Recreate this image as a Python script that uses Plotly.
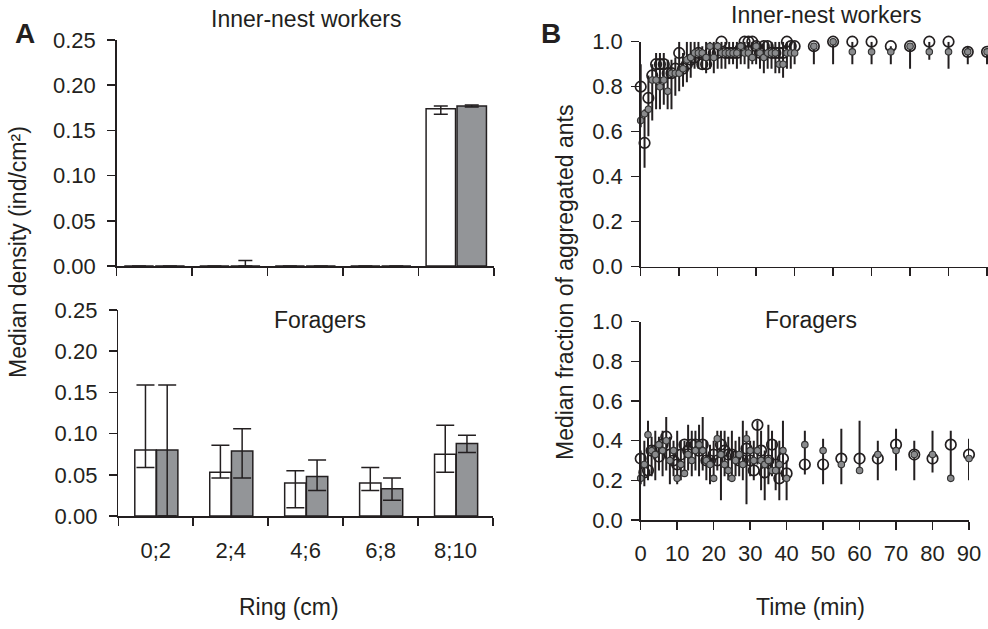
import numpy as np
import plotly.graph_objects as go

# ---------------- Panel A data ----------------
rings = ["0;2", "2;4", "4;6", "6;8", "8;10"]

inner_white = [0.0, 0.0, 0.0, 0.0, 0.174]
inner_white_lo = [0.0, 0.0, 0.0, 0.0, 0.168]
inner_white_hi = [0.0, 0.0, 0.0, 0.0, 0.177]
inner_gray = [0.0, 0.0, 0.0, 0.0, 0.177]
inner_gray_lo = [0.0, 0.0, 0.0, 0.0, 0.176]
inner_gray_hi = [0.0, 0.006, 0.0, 0.0, 0.178]

forager_white = [0.080, 0.053, 0.040, 0.040, 0.075]
forager_white_lo = [0.059, 0.046, 0.010, 0.031, 0.053]
forager_white_hi = [0.159, 0.086, 0.055, 0.059, 0.110]
forager_gray = [0.080, 0.079, 0.048, 0.033, 0.088]
forager_gray_lo = [0.0, 0.046, 0.031, 0.019, 0.077]
forager_gray_hi = [0.159, 0.106, 0.068, 0.046, 0.098]

# ---------------- Panel B data ----------------
time_min = [0, 1, 2, 3, 4, 5, 6, 7, 8, 9, 10, 11, 12, 13, 14, 15, 16, 17, 18, 19, 20,
            21, 22, 23, 24, 25, 26, 27, 28, 29, 30, 31, 32, 33, 34, 35, 36, 37, 38, 39, 40,
            45, 50, 55, 60, 65, 70, 75, 80, 85, 90]

inner_open = [0.80, 0.55, 0.75, 0.85, 0.90, 0.90, 0.90, 0.86, 0.86, 0.88,
              0.95, 0.88, 0.90, 0.92, 0.93, 0.95, 0.90, 0.90, 0.95, 0.95,
              0.95, 1.00, 0.95, 0.95, 0.95, 0.95, 0.97, 1.00, 1.00, 1.00,
              0.98, 0.95, 0.98, 0.98, 0.95, 0.95, 0.95, 0.95, 1.00, 0.98,
              0.98,
              0.98, 1.00, 1.00, 1.00, 0.98, 0.98, 1.00, 1.00, 0.955, 0.955]
inner_dot = [0.65, 0.68, 0.70, 0.83, 0.83, 0.80, 0.83, 0.78, 0.86, 0.86,
             0.86, 0.88, 0.92, 0.93, 0.95, 0.95, 0.95, 0.93, 0.98, 0.93,
             0.98, 0.95, 0.95, 0.95, 0.95, 0.95, 0.98, 0.95, 0.95, 0.93,
             0.98, 0.95, 0.93, 0.95, 0.95, 0.95, 0.90, 0.90, 0.95, 0.95,
             0.95,
             0.98, 1.00, 0.955, 0.955, 0.955, 0.98, 0.955, 0.955, 0.955, 0.955]
inner_lo = [0.62, 0.44, 0.58, 0.65, 0.70, 0.70, 0.72, 0.70, 0.70, 0.76,
            0.78, 0.80, 0.82, 0.84, 0.88, 0.88, 0.88, 0.86, 0.88, 0.86,
            0.88, 0.88, 0.88, 0.90, 0.90, 0.88, 0.90, 0.90, 0.88, 0.90,
            0.90, 0.88, 0.86, 0.88, 0.88, 0.86, 0.86, 0.84, 0.88, 0.88,
            0.90,
            0.90, 0.90, 0.90, 0.90, 0.90, 0.88, 0.92, 0.88, 0.90, 0.90]
inner_hi = [0.90, 0.70, 0.85, 0.90, 0.95, 0.95, 0.95, 0.92, 0.92, 0.93,
            1.00, 0.95, 1.00, 1.00, 1.00, 1.00, 0.98, 1.00, 1.00, 1.00,
            1.00, 1.00, 1.00, 1.00, 1.00, 1.00, 1.00, 1.00, 1.00, 1.00,
            1.00, 1.00, 1.00, 1.00, 1.00, 1.00, 1.00, 1.00, 1.00, 1.00,
            1.00,
            0.98, 1.00, 1.00, 1.00, 0.98, 0.98, 1.00, 1.00, 0.98, 0.97]

forager_open = [0.31, 0.24, 0.25, 0.35, 0.35, 0.32, 0.38, 0.42, 0.33, 0.30,
                0.28, 0.33, 0.38, 0.35, 0.38, 0.38, 0.35, 0.38, 0.30, 0.30,
                0.33, 0.30, 0.38, 0.35, 0.33, 0.33, 0.32, 0.30, 0.30, 0.36,
                0.30, 0.25, 0.48, 0.35, 0.24, 0.30, 0.38, 0.28, 0.21, 0.31,
                0.235,
                0.28, 0.28, 0.31, 0.31, 0.31, 0.38, 0.33, 0.31, 0.38, 0.33]
forager_dot = [0.21, 0.28, 0.43, 0.35, 0.33, 0.38, 0.35, 0.40, 0.30, 0.35,
               0.21, 0.28, 0.235, 0.33, 0.30, 0.35, 0.38, 0.35, 0.30, 0.28,
               0.21, 0.41, 0.33, 0.28, 0.25, 0.21, 0.30, 0.33, 0.28, 0.41,
               0.35, 0.30, 0.35, 0.30, 0.28, 0.30, 0.25, 0.25, 0.28, 0.35,
               0.21,
               0.38, 0.35, 0.28, 0.25, 0.33, 0.35, 0.33, 0.33, 0.21, 0.31]
forager_lo = [0.18, 0.17, 0.20, 0.22, 0.20, 0.25, 0.22, 0.25, 0.18, 0.22,
              0.18, 0.20, 0.22, 0.25, 0.22, 0.25, 0.22, 0.25, 0.20, 0.18,
              0.20, 0.25, 0.10, 0.22, 0.20, 0.20, 0.22, 0.22, 0.20, 0.08,
              0.22, 0.20, 0.28, 0.15, 0.10, 0.18, 0.22, 0.15, 0.10, 0.20,
              0.10,
              0.23, 0.18, 0.18, 0.25, 0.20, 0.25, 0.20, 0.24, 0.20, 0.20]
forager_hi = [0.35, 0.40, 0.50, 0.42, 0.45, 0.42, 0.45, 0.52, 0.42, 0.40,
              0.45, 0.40, 0.40, 0.48, 0.45, 0.45, 0.48, 0.52, 0.40, 0.38,
              0.40, 0.45, 0.45, 0.45, 0.42, 0.45, 0.40, 0.42, 0.50, 0.45,
              0.40, 0.40, 0.50, 0.45, 0.35, 0.48, 0.45, 0.40, 0.40, 0.50,
              0.30,
              0.45, 0.41, 0.46, 0.50, 0.40, 0.46, 0.40, 0.45, 0.45, 0.41]

# ---------------- styling ----------------
W, H = 988, 629
INK = "#231f20"
GRAY = "#939598"
FONT = "Liberation Sans, Arial, Helvetica, sans-serif"


def px(x):
    return x / W


def py(y):
    return 1 - y / H


fig = go.Figure()


def add_bars(vals, lo, hi, fill, offset, width, xa, ya, capw):
    v = np.array(vals)
    fig.add_trace(go.Bar(
        x=rings, y=vals, xaxis=xa, yaxis=ya,
        offset=offset, width=width,
        marker=dict(color=fill, line=dict(color=INK, width=1.5)),
        error_y=dict(type="data", symmetric=False,
                     array=list(np.array(hi) - v), arrayminus=list(v - np.array(lo)),
                     color=INK, thickness=1.5, width=capw),
        showlegend=False, hoverinfo="skip"))


add_bars(inner_white, inner_white_lo, inner_white_hi, "white", -0.40, 0.39, "x", "y", 7)
add_bars(inner_gray, inner_gray_lo, inner_gray_hi, GRAY, 0.01, 0.39, "x", "y", 7)
add_bars(forager_white, forager_white_lo, forager_white_hi, "white", -0.28, 0.285, "x2", "y2", 9)
add_bars(forager_gray, forager_gray_lo, forager_gray_hi, GRAY, 0.01, 0.285, "x2", "y2", 9)


def add_time_panel(openv, dotv, lo, hi, xa, ya):
    lo_a = np.array(lo)
    hi_a = np.array(hi)
    fig.add_trace(go.Scatter(
        x=time_min, y=lo, xaxis=xa, yaxis=ya, mode="markers",
        marker=dict(size=1, color="rgba(0,0,0,0)"),
        error_y=dict(type="data", symmetric=False, array=list(hi_a - lo_a),
                     arrayminus=[0] * len(lo), color=INK, thickness=2, width=0),
        cliponaxis=False, showlegend=False, hoverinfo="skip"))
    fig.add_trace(go.Scatter(
        x=time_min, y=openv, xaxis=xa, yaxis=ya, mode="markers",
        marker=dict(symbol="circle-open", size=10.5, color=INK, line=dict(width=1.7, color=INK)),
        cliponaxis=False, showlegend=False))
    fig.add_trace(go.Scatter(
        x=time_min, y=dotv, xaxis=xa, yaxis=ya, mode="markers",
        marker=dict(symbol="circle", size=6.5, color="#8a8b8d", line=dict(width=1.1, color="#333333")),
        cliponaxis=False, showlegend=False))


add_time_panel(inner_open, inner_dot, inner_lo, inner_hi, "x3", "y3")
add_time_panel(forager_open, forager_dot, forager_lo, forager_hi, "x4", "y4")

axis_common = dict(showline=True, linecolor=INK, linewidth=1.5, ticks="outside",
                   ticklen=8, tickwidth=1.5, tickcolor=INK, showgrid=False, zeroline=False,
                   automargin=False,
                   tickfont=dict(family=FONT, size=22, color=INK), fixedrange=True)

xb_top_end = (W - 640.7) / 3.848

fig.update_layout(
    width=W, height=H, margin=dict(l=0, r=0, t=0, b=0, autoexpand=False),
    paper_bgcolor="white", plot_bgcolor="white", barmode="overlay",
    font=dict(family=FONT, color=INK),
    xaxis=dict(axis_common, type="category", categoryorder="array", categoryarray=rings,
               domain=[px(116.7), px(494)], range=[-0.5, 4.5], anchor="y",
               tickson="boundaries", showticklabels=False),
    yaxis=dict(axis_common, domain=[py(266), py(40)], range=[0, 0.25], dtick=0.05,
               tickformat=".2f", anchor="x", ticklabelstandoff=7),
    xaxis2=dict(axis_common, type="category", categoryorder="array", categoryarray=rings,
                domain=[px(118.3), px(493)], range=[-0.5, 4.5], anchor="y2",
                tickson="boundaries", ticklabelstandoff=14),
    yaxis2=dict(axis_common, domain=[py(516), py(310)], range=[0, 0.25], dtick=0.05,
                tickformat=".2f", anchor="x2", ticklabelstandoff=7),
    xaxis3=dict(axis_common, domain=[px(640.7), 1.0], range=[0, xb_top_end], dtick=10,
                tick0=0, anchor="y3", showticklabels=False),
    yaxis3=dict(axis_common, domain=[py(266.7), py(41.7)], range=[0, 1.0], dtick=0.2,
                tickformat=".1f", anchor="x3", ticklabelstandoff=4),
    xaxis4=dict(axis_common, domain=[px(640.7), px(969)], range=[0, 90], dtick=10,
                tick0=0, anchor="y4", ticklabelstandoff=5),
    yaxis4=dict(axis_common, domain=[py(520), py(321.7)], range=[0, 1.0], dtick=0.2,
                tickformat=".1f", anchor="x4", ticklabelstandoff=4),
)


def label(text, x, y, size=23, angle=0, bold=False):
    fig.add_annotation(text=f"<b>{text}</b>" if bold else text,
                       x=px(x), y=py(y), xref="paper", yref="paper",
                       xanchor="center", yanchor="middle", showarrow=False,
                       textangle=angle, font=dict(family=FONT, size=size, color=INK))


label("A", 25, 33, size=28, bold=True)
label("B", 551, 33, size=28, bold=True)
label("Inner-nest workers", 306, 19)
label("Inner-nest workers", 826, 15)
label("Foragers", 320, 320)
label("Foragers", 811, 320)
label("Median density (ind/cm²)", 18, 252, angle=-90)
label("Median fraction of aggregated ants", 565, 283, angle=-90)
label("Ring (cm)", 289, 607)
label("Time (min)", 810, 607)

fig.write_html("out.html", config={"displayModeBar": False, "staticPlot": True},
               post_script="document.body.style.margin='0';document.body.style.overflow='hidden';")
